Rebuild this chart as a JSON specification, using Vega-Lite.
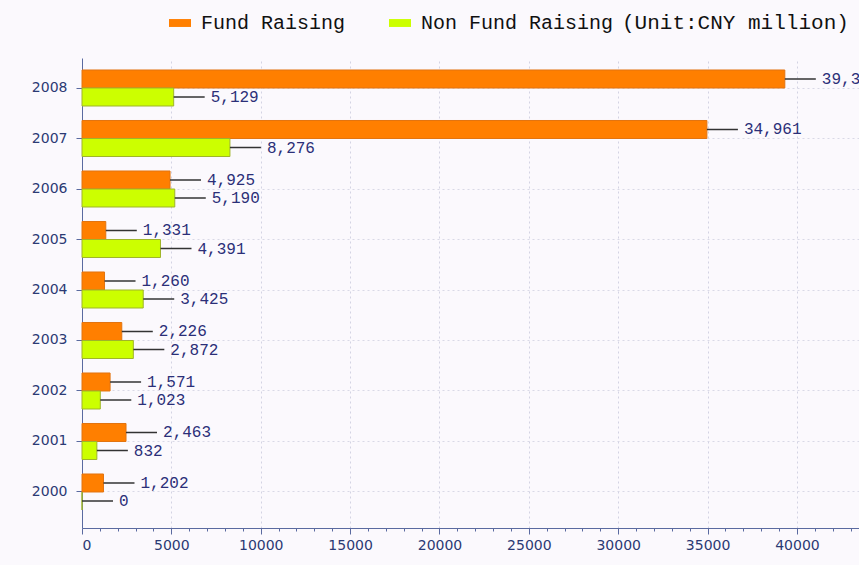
{
  "$schema": "https://vega.github.io/schema/vega-lite/v6.json",
  "autosize": {"type": "none"},
  "padding": {"left": 82, "top": 58, "right": 0, "bottom": 37},
  "width": 777,
  "height": 470,
  "background": "#fbf9fd",
  "config": {
    "view": {"stroke": null},
    "axis": {"labelFont": "DejaVu Sans", "labelFontSize": 14, "labelColor": "#2b3a74", "domainColor": "#5a6aa0", "tickColor": "#5a6aa0"}
  },
  "data": {
    "values": [
      {"year": "2000", "series": "Fund Raising", "value": 1202},
      {"year": "2000", "series": "Non Fund Raising", "value": 0},
      {"year": "2001", "series": "Fund Raising", "value": 2463},
      {"year": "2001", "series": "Non Fund Raising", "value": 832},
      {"year": "2002", "series": "Fund Raising", "value": 1571},
      {"year": "2002", "series": "Non Fund Raising", "value": 1023},
      {"year": "2003", "series": "Fund Raising", "value": 2226},
      {"year": "2003", "series": "Non Fund Raising", "value": 2872},
      {"year": "2004", "series": "Fund Raising", "value": 1260},
      {"year": "2004", "series": "Non Fund Raising", "value": 3425},
      {"year": "2005", "series": "Fund Raising", "value": 1331},
      {"year": "2005", "series": "Non Fund Raising", "value": 4391},
      {"year": "2006", "series": "Fund Raising", "value": 4925},
      {"year": "2006", "series": "Non Fund Raising", "value": 5190},
      {"year": "2007", "series": "Fund Raising", "value": 34961},
      {"year": "2007", "series": "Non Fund Raising", "value": 8276},
      {"year": "2008", "series": "Fund Raising", "value": 39320},
      {"year": "2008", "series": "Non Fund Raising", "value": 5129}
    ]
  },
  "encoding": {
    "y": {
      "field": "year", "type": "nominal", "sort": "descending",
      "scale": {"paddingInner": 0.287, "paddingOuter": 0.297, "align": 0.4},
      "axis": {
        "title": null, "tickSize": 6, "labelPadding": 9,
        "grid": true, "gridDash": [2, 3], "gridColor": "#d9d9e6"
      }
    },
    "yOffset": {"field": "series", "type": "nominal", "scale": {"domain": ["Fund Raising", "Non Fund Raising"]}},
    "x": {
      "field": "value", "type": "quantitative",
      "scale": {"domain": [0, 43470], "nice": false},
      "axis": {
        "title": null,
        "values": [0,1000,2000,3000,4000,5000,6000,7000,8000,9000,10000,11000,12000,13000,14000,15000,16000,17000,18000,19000,20000,21000,22000,23000,24000,25000,26000,27000,28000,29000,30000,31000,32000,33000,34000,35000,36000,37000,38000,39000,40000,41000,42000,43000],
        "labelExpr": "datum.value % 5000 === 0 ? datum.value : ''",
        "tickSize": {"condition": {"test": "datum.value % 5000 === 0", "value": 6}, "value": 3},
        "grid": true, "gridDash": [2, 3], "gridColor": "#d3d3e3",
        "gridOpacity": {"condition": {"test": "datum.value % 5000 === 0", "value": 1}, "value": 0},
        "labelPadding": 4
      }
    }
  },
  "layer": [
    {
      "mark": {"type": "bar", "strokeWidth": 1},
      "encoding": {
        "color": {
          "field": "series", "type": "nominal",
          "scale": {"domain": ["Fund Raising", "Non Fund Raising"], "range": ["#ff7f00", "#ccff00"]},
          "legend": {
            "orient": "none", "legendX": 87, "legendY": -46,
            "direction": "horizontal",
            "title": "(Unit:CNY million)", "titleOrient": "right",
            "titleFont": "Liberation Mono", "titleFontSize": 21, "titleFontWeight": "normal", "titleColor": "#111111", "titlePadding": 9, "titleLimit": 400,
            "labelFont": "Liberation Mono", "labelFontSize": 20, "labelColor": "#111111", "labelLimit": 400,
            "symbolType": "M-1,-0.36L1,-0.36L1,0.36L-1,0.36Z", "symbolSize": 484, "symbolStrokeWidth": 0,
            "labelOffset": 10, "columnPadding": 43, "padding": 0
          }
        },
        "stroke": {
          "field": "series", "type": "nominal",
          "scale": {"domain": ["Fund Raising", "Non Fund Raising"], "range": ["#e27410", "#9fb52a"]},
          "legend": null
        }
      }
    },
    {
      "mark": {"type": "rule", "x2Offset": 31, "color": "#333333", "strokeWidth": 1.5},
      "encoding": {"x2": {"field": "value"}}
    },
    {
      "mark": {"type": "text", "align": "left", "baseline": "middle", "dx": 37, "font": "Liberation Mono", "fontSize": 16, "color": "#2b2f78"},
      "encoding": {"text": {"field": "value", "type": "quantitative", "format": ","}}
    }
  ]
}
